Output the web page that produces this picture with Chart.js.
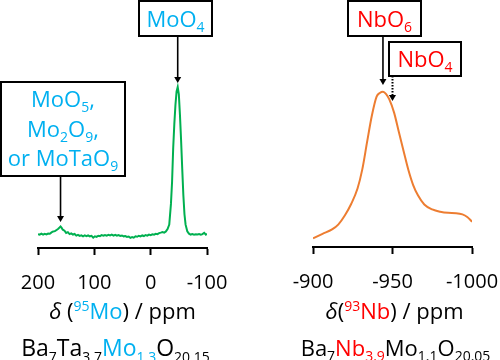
<!DOCTYPE html>
<html><head><meta charset="utf-8">
<script src="https://cdn.jsdelivr.net/npm/chart.js@4/dist/chart.umd.min.js"></script>
<style>
html,body{margin:0;padding:0;background:#fff;}
#wrap{position:relative;width:500px;height:360px;overflow:hidden;background:#fff;}
#wrap canvas{position:absolute;left:0;top:0;}
</style></head><body>
<div id="wrap"><canvas id="mo" width="500" height="360"></canvas><canvas id="nb" width="560" height="360"></canvas></div>
<script>
// ---------- DATA ----------
const moPpm = [200,197,194,191,188,185,182,179,176,173,170,167,164,162,160,158,156,153,150,147,144,141,138,135,132,129,126,123,120,117,114,111,108,105,102,99,96,93,90,87,84,81,78,75,72,69,66,63,60,57,54,51,48,45,42,39,36,33,30,27,24,21,18,15,12,9,6,3,0,-3,-6,-9,-12,-15,-18,-21,-24,-27,-30,-33,-36,-38,-40,-42,-44,-46,-48,-50,-52,-54,-56,-58,-60,-62,-65,-68,-71,-74,-77,-80,-83,-86,-89,-92,-95,-98,-100];
const moIntensity = [0.6,0.2,0.9,0.3,0.8,0.4,1.0,0.9,1.8,2.4,2.6,3.4,4.2,5.0,5.8,4.8,3.6,2.9,1.4,1.9,0.6,1.1,0.3,0.7,-0.4,0.1,-0.6,-0.2,-0.9,-0.3,-0.8,-0.2,-0.9,-0.6,-1.8,-0.9,-1.3,-0.5,-0.8,-0.1,-0.5,0.0,-0.4,0.1,-0.3,0.2,-0.4,0.1,-0.5,0.0,-0.6,-0.3,-0.9,-0.7,-1.3,-1.0,-1.9,-1.4,-1.8,-0.9,-1.2,-0.5,-0.9,-0.3,-0.7,0.0,-0.4,0.3,-0.1,0.5,0.2,0.8,0.6,1.3,1.6,2.0,1.6,2.4,4.0,7.0,21,36,59,75,88,97,100,95,81,64,45,27,14,7,2.5,0.9,0.3,0.6,0.2,0.5,0.3,0.7,0.2,0.6,1.5,0.2,0.8];
const moTicks = [200,100,0,-100];
const moTickLabels = ['200','100','0','-100'];
const moPeakMoO4 = -48;
const moPeakMinor = 160;

const nbPpm = [-900,-906,-912,-916,-920,-924,-928,-931,-934,-937,-940,-942,-944,-946,-948,-951,-954,-957,-960,-963,-966,-970,-975,-980,-985,-990,-994,-997,-1000];
const nbIntensity = [5.6,8.5,11.3,14.6,20.3,27.7,37.7,50,67.5,84.5,96.8,99.2,100,98.5,95,86.5,74,61.7,49.6,39.9,33.3,27.4,24.2,22.7,22.0,21.8,21.0,19.3,16.3];
const nbTicks = [-900,-950,-1000];
const nbTickLabels = ['-900','-950','-1000'];
const nbPeakNbO6 = -944;
const nbPeakNbO4 = -950;

// ---------- STYLE ----------
const CYAN = '#00B0F0', RED = '#FF0000', GREEN = '#00B050', ORANGE = '#ED7D31';
const FONT = '"Open Sans", "DejaVu Sans", sans-serif';
const T = (t, c) => ({t, c: c || '#000'});
const S = (t, c) => ({t, c: c || '#000', sub: true});
const P = (t, c) => ({t, c: c || '#000', sup: true});
const I = (t, c) => ({t, c: c || '#000', it: true});

function segFont(s, size) {
  const sz = (s.sub || s.sup) ? Math.round(size * 0.62) : size;
  return (s.it ? 'italic ' : '') + sz + 'px ' + FONT;
}
function drawRich(ctx, segs, x, y, size) {
  let w = 0;
  segs.forEach(s => { ctx.font = segFont(s, size); s.w = ctx.measureText(s.t).width; w += s.w; });
  let cx = x - w / 2;
  ctx.textBaseline = 'alphabetic';
  ctx.textAlign = 'left';
  segs.forEach(s => {
    ctx.font = segFont(s, size);
    ctx.fillStyle = s.c;
    const dy = s.sub ? size * 0.24 : (s.sup ? -size * 0.36 : 0);
    ctx.fillText(s.t, cx, y + dy);
    cx += s.w;
  });
}

const decorPlugin = {
  id: 'decor',
  afterDraw(chart, args, o) {
    const ctx = chart.ctx, xs = chart.scales.x, ca = chart.chartArea;
    ctx.save();
    (o.boxes || []).forEach(b => {
      ctx.lineWidth = 2; ctx.strokeStyle = '#000';
      ctx.strokeRect(b.x1, b.y1, b.x2 - b.x1, b.y2 - b.y1);
      b.lines.forEach((ln, i) => drawRich(ctx, ln, (b.x1 + b.x2) / 2, b.baselines[i], b.size));
    });
    (o.arrows || []).forEach(a => {
      const x = xs.getPixelForValue(a.ppm);
      ctx.strokeStyle = '#000'; ctx.fillStyle = '#000';
      ctx.lineWidth = a.dotted ? 2 : 1.6;
      ctx.setLineDash(a.dotted ? [1.5, 1.5] : []);
      ctx.beginPath(); ctx.moveTo(x, a.y1); ctx.lineTo(x, a.y2 - 5); ctx.stroke();
      ctx.setLineDash([]);
      ctx.beginPath(); ctx.moveTo(x - 3.5, a.y2 - 6); ctx.lineTo(x + 3.5, a.y2 - 6); ctx.lineTo(x, a.y2); ctx.closePath(); ctx.fill();
    });
    const cxm = (ca.left + ca.right) / 2;
    drawRich(ctx, o.title, cxm + (o.titleDx || 0), o.titleY, o.titleSize);
    drawRich(ctx, o.formula, cxm + (o.formulaDx || 0), o.formulaY, o.formulaSize);
    ctx.restore();
  }
};

function makeChart(id, ppm, inten, color, xMin, xMax, ticks, labels, yMin, yMax, pad, scaleH, decor) {
  return new Chart(document.getElementById(id), {
    type: 'line',
    data: { datasets: [{
      data: ppm.map((x, i) => ({x, y: inten[i]})),
      borderColor: color, borderWidth: 2, pointRadius: 0, fill: false,
      tension: id === 'nb' ? 0.4 : 0, cubicInterpolationMode: id === 'nb' ? 'monotone' : 'default'
    }]},
    options: {
      responsive: false, animation: false, events: [], devicePixelRatio: 1,
      layout: { padding: pad },
      plugins: { legend: {display: false}, tooltip: {enabled: false}, decor },
      scales: {
        x: {
          type: 'linear', reverse: true, min: xMin, max: xMax,
          afterBuildTicks: s => { s.ticks = ticks.map(v => ({value: v})); },
          afterFit: s => { s.height = scaleH; },
          ticks: { autoSkip: false, maxRotation: 0, minRotation: 0, padding: 16, color: '#000',
                   font: {family: FONT, size: 20},
                   callback: v => { const k = ticks.indexOf(v); return k >= 0 ? labels[k] : ''; } },
          grid: { display: true, drawOnChartArea: false, drawTicks: true, tickLength: 7, tickWidth: 2, tickColor: '#000' },
          border: { display: true, color: '#000', width: 2 }
        },
        y: { display: false, min: yMin, max: yMax }
      }
    },
    plugins: [decorPlugin]
  });
}

makeChart('mo', moPpm, moIntensity, GREEN, -100, 200, moTicks, moTickLabels, -8.78, 118.24,
  {left: 38, right: 293, top: 60, bottom: 0}, 112, {
    boxes: [
      {x1: 139, y1: 1, x2: 212, y2: 36, size: 22, baselines: [27], lines: [[T('MoO', CYAN), S('4', CYAN)]]},
      {x1: 1, y1: 82, x2: 125, y2: 176, size: 22, baselines: [107, 137, 166], lines: [
        [T('MoO', CYAN), S('5', CYAN), T(',', CYAN)],
        [T('Mo', CYAN), S('2', CYAN), T('O', CYAN), S('9', CYAN), T(',', CYAN)],
        [T('or MoTaO', CYAN), S('9', CYAN)]
      ]}
    ],
    arrows: [
      {ppm: moPeakMoO4, y1: 36, y2: 83},
      {ppm: moPeakMinor, y1: 176, y2: 222}
    ],
    title: [I('δ'), T(' ('), P('95', CYAN), T('Mo', CYAN), T(') / ppm')], titleY: 319, titleSize: 22,
    formula: [T('Ba'), S('7'), T('Ta'), S('3.7'), T('Mo', CYAN), S('1.3', CYAN), T('O'), S('20.15')], formulaY: 356, formulaSize: 23, formulaDx: -7
  });

makeChart('nb', nbPpm, nbIntensity, ORANGE, -1000, -900, nbTicks, nbTickLabels, 0, 120.4,
  {left: 313, right: 88, top: 60, bottom: 0}, 113, {
    boxes: [
      {x1: 348, y1: 1, x2: 421, y2: 36, size: 22, baselines: [27], lines: [[T('NbO', RED), S('6', RED)]]},
      {x1: 389, y1: 42, x2: 461, y2: 76, size: 22, baselines: [67], lines: [[T('NbO', RED), S('4', RED)]]}
    ],
    arrows: [
      {ppm: nbPeakNbO6, y1: 36, y2: 85},
      {ppm: nbPeakNbO4, y1: 76, y2: 101, dotted: true}
    ],
    title: [I('δ'), T('('), P('93', RED), T('Nb', RED), T(') / ppm')], titleY: 319, titleSize: 22, titleDx: 2,
    formula: [T('Ba'), S('7'), T('Nb', RED), S('3.9', RED), T('Mo'), S('1.1'), T('O'), S('20.05')], formulaY: 356, formulaSize: 22, formulaDx: 3
  });
</script>
</body></html>
